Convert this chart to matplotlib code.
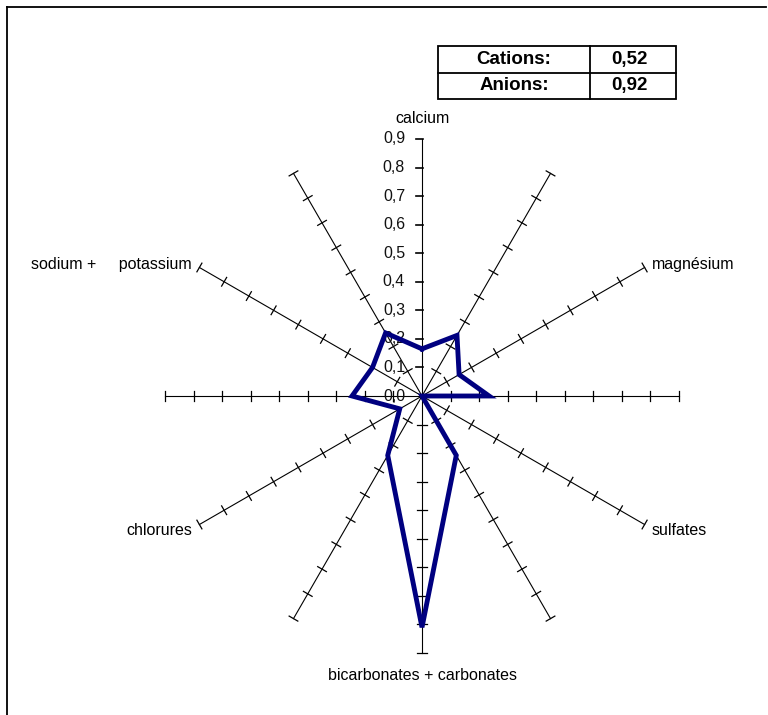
import numpy as np
import matplotlib.pyplot as plt
from matplotlib.patches import Rectangle
from matplotlib.lines import Line2D

plt.rcParams['font.family'] = ['Liberation Sans', 'DejaVu Sans']

# Ionic balance radar (12 spokes, every other one labelled)
categories = ["calcium", "", "magnésium", "", "sulfates", "",
              "bicarbonates + carbonates", "", "chlorures", "",
              "sodium +     potassium", ""]
values = [0.165, 0.245, 0.15, 0.235, 0.0, 0.24,
          0.81, 0.24, 0.09, 0.245, 0.20, 0.255]
ticks = [0.0, 0.1, 0.2, 0.3, 0.4, 0.5, 0.6, 0.7, 0.8, 0.9]
tick_labels = ["0,0", "0,1", "0,2", "0,3", "0,4", "0,5", "0,6", "0,7", "0,8", "0,9"]
balance_names = ["Cations:", "Anions:"]
balance_values = ["0,52", "0,92"]

W, H = 768, 715
fig = plt.figure(figsize=(W / 100, H / 100), dpi=100)
ax = fig.add_axes([0, 0, 1, 1])
cx, cy = 422, 396      # centre of the radar, in pixels
ppu = 285.6            # pixels per unit of value
ax.set_xlim(-cx / ppu, (W - cx) / ppu)
ax.set_ylim(-(H - cy) / ppu, cy / ppu)
ax.axis('off')

rmax = ticks[-1]
n = len(categories)
angles = np.deg2rad(np.arange(n) * 360.0 / n)
px = 1.0 / ppu

# spokes with tick marks
for k, a in enumerate(angles):
    dx, dy = np.sin(a), np.cos(a)
    ax.plot([0, rmax * dx], [0, rmax * dy], color='black', lw=0.8, zorder=1)
    nx, ny = np.cos(a), -np.sin(a)   # perpendicular (points right of spoke)
    for t in ticks[1:]:
        bx, by = t * dx, t * dy
        if k == 0:
            lo, hi = -6 * px, 1 * px
        else:
            lo, hi = -5 * px, 5 * px
        ax.plot([bx + lo * nx, bx + hi * nx], [by + lo * ny, by + hi * ny],
                color='black', lw=0.9 if k else 1.2, zorder=1)

# value axis labels on the vertical spoke
for t, lab in zip(ticks, tick_labels):
    ax.text(-17 * px, t, lab, ha='right', va='center', fontsize=11.5,
            color='#111111', zorder=2)

# category labels
for k, (a, lab) in enumerate(zip(angles, categories)):
    if not lab:
        continue
    deg = np.rad2deg(a)
    if deg in (0.0, 180.0):
        r = 0.97 if deg == 0 else 0.98
        ha = 'center'
    else:
        r = 0.93
        ha = 'left' if deg < 180 else 'right'
    ax.text(r * np.sin(a), r * np.cos(a) - (1.5 * px if deg not in (0.0, 180.0) else 0),
            lab, ha=ha, va='center', fontsize=11.5, color='black')

# data polygon
xs = np.array(values) * np.sin(angles)
ys = np.array(values) * np.cos(angles)
ax.plot(np.append(xs, xs[0]), np.append(ys, ys[0]), color='#000080',
        lw=3.5, solid_joinstyle='miter', zorder=3)

# balance table (figure pixel coordinates)
def fx(x):
    return x / W

def fy(y):
    return 1 - y / H

tl, tr, tdiv = 438, 676, 590
ttop, tmid, tbot = 46, 72.5, 99
fig.add_artist(Rectangle((fx(tl), fy(tbot)), fx(tr) - fx(tl), fy(ttop) - fy(tbot),
                         transform=fig.transFigure, fill=False, lw=1.3,
                         edgecolor='black'))
fig.add_artist(Line2D([fx(tl), fx(tr)], [fy(tmid), fy(tmid)],
                      transform=fig.transFigure, color='black', lw=1.3))
fig.add_artist(Line2D([fx(tdiv), fx(tdiv)], [fy(ttop), fy(tbot)],
                      transform=fig.transFigure, color='black', lw=1.3))
rows = [(ttop + tmid) / 2, (tmid + tbot) / 2]
for yrow, name, val in zip(rows, balance_names, balance_values):
    fig.text(fx((tl + tdiv) / 2), fy(yrow), name, ha='center', va='center',
             fontsize=13.5, fontweight='bold')
    fig.text(fx((tdiv + tr) / 2) - 0.004, fy(yrow), val, ha='center', va='center',
             fontsize=13.5, fontweight='bold')

# chart-area border (top and left edges)
fig.add_artist(Line2D([fx(7), fx(766)], [fy(6.5), fy(6.5)],
                      transform=fig.transFigure, color='black', lw=1.3))
fig.add_artist(Line2D([fx(7), fx(7)], [fy(6.5), fy(715)],
                      transform=fig.transFigure, color='black', lw=1.3))

fig.savefig('out.png', dpi=100)
